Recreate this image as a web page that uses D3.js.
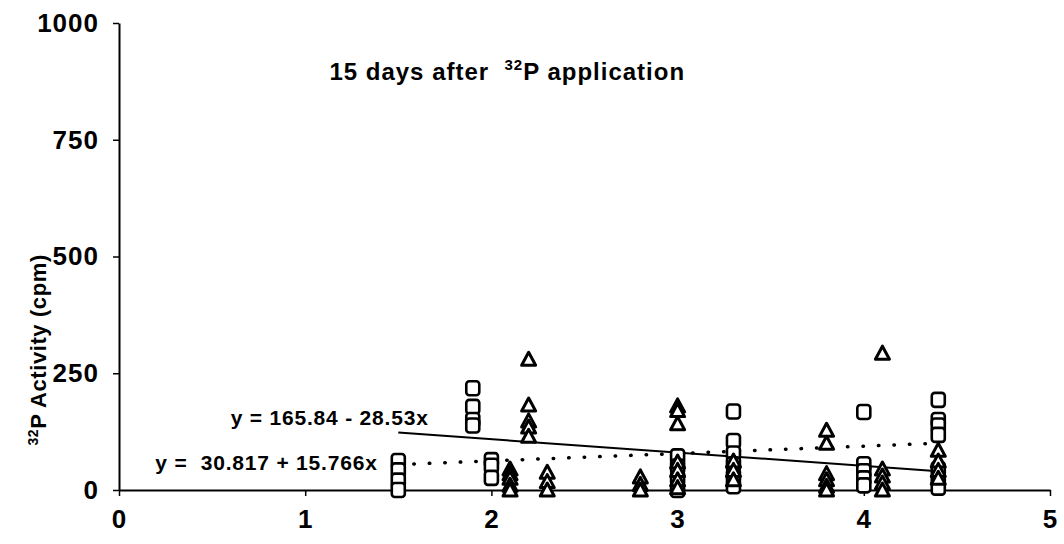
<!DOCTYPE html>
<html>
<head>
<meta charset="utf-8">
<script src="https://cdn.jsdelivr.net/npm/d3@7"></script>
<style>
  body { margin: 0; background: #fff; }
  svg { display: block; font-family: "Liberation Sans", Arial, sans-serif; font-weight: bold; }
</style>
</head>
<body>
<div id="chart-area"></div>
<script>
// soil depth / distance (x) vs 32P activity (cpm)
const xTicks = [0, 1, 2, 3, 4, 5];
const yTicks = [0, 250, 500, 750, 1000];

// square markers [x, cpm]
const squares = [
  [1.5, 62], [1.5, 42], [1.5, 20], [1.5, 0],
  [1.9, 218], [1.9, 178], [1.9, 150], [1.9, 138],
  [2.0, 64], [2.0, 52], [2.0, 26],
  [3.0, 72], [3.0, 50], [3.0, 25], [3.0, 0],
  [3.3, 168], [3.3, 105], [3.3, 78], [3.3, 55], [3.3, 30], [3.3, 8],
  [4.0, 167], [4.0, 55], [4.0, 40], [4.0, 25], [4.0, 10],
  [4.4, 193], [4.4, 150], [4.4, 138], [4.4, 118], [4.4, 45], [4.4, 22], [4.4, 5]
];

// triangle markers [x, cpm]
const triangles = [
  [2.1, 45], [2.1, 35], [2.1, 25], [2.1, 10], [2.1, 0],
  [2.2, 280], [2.2, 182], [2.2, 148], [2.2, 135], [2.2, 115],
  [2.3, 38], [2.3, 18], [2.3, 0],
  [2.8, 28], [2.8, 12], [2.8, 0],
  [3.0, 180], [3.0, 170], [3.0, 142], [3.0, 60], [3.0, 42], [3.0, 22], [3.0, 5],
  [3.3, 62], [3.3, 42], [3.3, 22],
  [3.8, 128], [3.8, 100], [3.8, 35], [3.8, 22], [3.8, 8], [3.8, 0],
  [4.1, 293], [4.1, 45], [4.1, 30], [4.1, 15], [4.1, 0],
  [4.4, 85], [4.4, 62], [4.4, 42], [4.4, 25]
];

// fitted lines: y = a + b*x over fitRange
const fitRange = [1.5, 4.4];
const solidFit = { a: 165.84, b: -28.53, label: "y = 165.84 - 28.53x" };
const dottedFit = { a: 30.817, b: 15.766, label: "y =  30.817 + 15.766x" };

const margin = { top: 23, right: 14, bottom: 54, left: 119 };
const W = 1064, H = 544;
const width = W - margin.left - margin.right;
const height = H - margin.top - margin.bottom;

const svg = d3.select("#chart-area").append("svg")
  .attr("width", W)
  .attr("height", H);

const g = svg.append("g")
  .attr("transform", "translate(" + margin.left + "," + margin.top + ")");

const x = d3.scaleLinear().domain([0, 5]).range([0, width]);
const y = d3.scaleLinear().domain([0, 1000]).range([height, 0]);

// axes
const xAxis = g.append("g")
  .attr("transform", "translate(0," + height + ")")
  .call(d3.axisBottom(x).tickValues(xTicks).tickFormat(d3.format("d"))
    .tickSize(6).tickSizeOuter(0).tickPadding(14));
const yAxis = g.append("g")
  .call(d3.axisLeft(y).tickValues(yTicks).tickFormat(d3.format("d"))
    .tickSize(6).tickSizeOuter(0).tickPadding(14));

[xAxis, yAxis].forEach(a => {
  a.select(".domain").attr("stroke", "#000").attr("stroke-width", 2);
  a.selectAll(".tick line").attr("stroke", "#000").attr("stroke-width", 1.5);
  a.selectAll(".tick text")
    .attr("fill", "#000")
    .style("font-size", "26px")
    .style("letter-spacing", "1px")
    .style("font-weight", "bold")
    .style("font-family", "'Liberation Sans', Arial, sans-serif");
});

// fitted lines
function fitLine(f) {
  return d3.line()(fitRange.map(v => [x(v), y(f.a + f.b * v)]));
}
g.append("path")
  .attr("d", fitLine(solidFit))
  .attr("fill", "none")
  .attr("stroke", "#000")
  .attr("stroke-width", 2);
g.append("path")
  .attr("d", fitLine(dottedFit))
  .attr("fill", "none")
  .attr("stroke", "#000")
  .attr("stroke-width", 3.5)
  .attr("stroke-linecap", "round")
  .attr("stroke-dasharray", "0.5 15");

// markers
g.selectAll(".sq")
  .data(squares)
  .enter()
  .append("rect")
  .attr("class", "sq")
  .attr("x", d => x(d[0]) - 6.5)
  .attr("y", d => y(d[1]) - 7)
  .attr("width", 13)
  .attr("height", 14)
  .attr("rx", 3)
  .attr("fill", "#fff")
  .attr("stroke", "#000")
  .attr("stroke-width", 2.6);

const tri = "M0,-7 L7,6 L-7,6 Z";
g.selectAll(".tri")
  .data(triangles)
  .enter()
  .append("path")
  .attr("class", "tri")
  .attr("d", tri)
  .attr("transform", d => "translate(" + x(d[0]) + "," + y(d[1]) + ")")
  .attr("fill", "#fff")
  .attr("stroke", "#000")
  .attr("stroke-width", 3)
  .attr("stroke-linejoin", "round");

// equation labels
g.append("text")
  .attr("x", x(0.6))
  .attr("y", y(139))
  .style("font-size", "21px")
  .style("letter-spacing", "0.8px")
  .text(solidFit.label);
g.append("text")
  .attr("x", x(0.195))
  .attr("y", y(43))
  .style("font-size", "21px")
  .style("letter-spacing", "0.8px")
  .style("white-space", "pre")
  .attr("xml:space", "preserve")
  .text(dottedFit.label);

// title
const title = g.append("text")
  .attr("x", x(1.13))
  .attr("y", y(878))
  .style("font-size", "24px")
  .style("letter-spacing", "1px")
  .style("white-space", "pre")
  .attr("xml:space", "preserve");
title.append("tspan").text("15 days after  ");
title.append("tspan").attr("dy", -10).style("font-size", "15px").text("32");
title.append("tspan").attr("dy", 10).text("P application");

// y label
const ylab = svg.append("text")
  .attr("transform", "translate(46," + (margin.top + y(300)) + ") rotate(-90)")
  .attr("text-anchor", "middle")
  .style("font-size", "22px")
  .style("letter-spacing", "0.6px");
ylab.append("tspan").attr("dy", -8).style("font-size", "14px").text("32");
ylab.append("tspan").attr("dy", 8).text("P Activity (cpm)");
</script>
</body>
</html>
